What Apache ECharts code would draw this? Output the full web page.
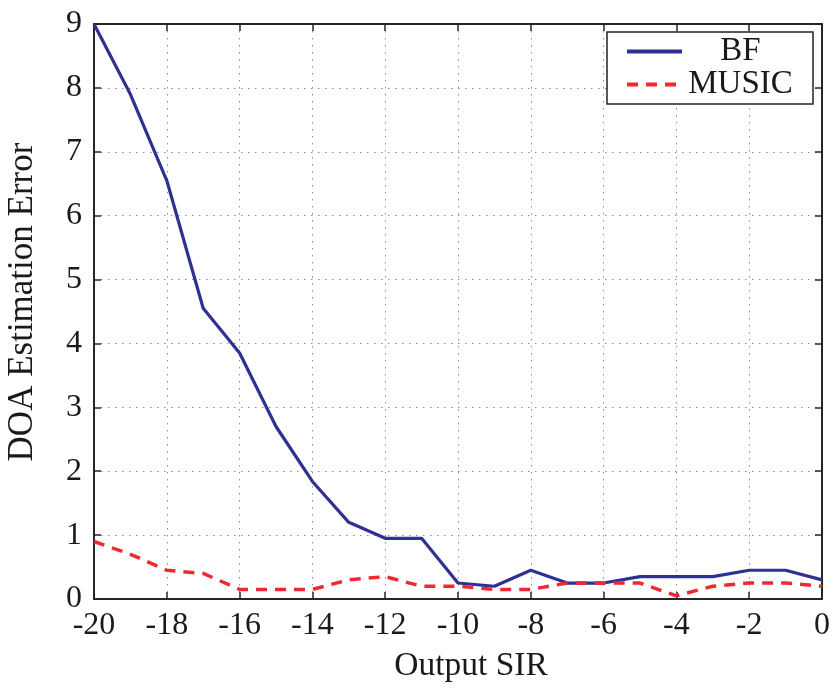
<!DOCTYPE html>
<html>
<head>
<meta charset="utf-8">
<script src="https://cdn.jsdelivr.net/npm/echarts@6/dist/echarts.min.js"></script>
<style>
  html, body { margin: 0; padding: 0; background: #fff; }
  #chart { width: 833px; height: 689px; }
</style>
</head>
<body>
<div id="chart"></div>
<script>
const sir = [-20, -19, -18, -17, -16, -15, -14, -13, -12, -11, -10, -9, -8, -7, -6, -5, -4, -3, -2, -1, 0]
const bfErr = [9, 7.9, 6.55, 4.55, 3.85, 2.7, 1.84, 1.2, 0.95, 0.95, 0.25, 0.2, 0.45, 0.25, 0.25, 0.35, 0.35, 0.35, 0.45, 0.45, 0.3]
const musicErr = [0.9, 0.7, 0.45, 0.4, 0.15, 0.15, 0.15, 0.3, 0.35, 0.2, 0.2, 0.15, 0.15, 0.25, 0.25, 0.25, 0.05, 0.2, 0.25, 0.25, 0.2]
const xTitle = 'Output SIR'
const yTitle = 'DOA Estimation Error'

const font = 'Liberation Serif'
const axisColor = '#262626'
const gridDots = { color: '#8c8c8c', width: 1, type: [1.5, 5.5] }

const chart = echarts.init(document.getElementById('chart'))

const frameAxis = (pos) => ({
  type: 'value', position: pos, min: pos === 'top' ? -20 : 0, max: pos === 'top' ? 0 : 9,
  interval: pos === 'top' ? 2 : 1,
  axisLine: { show: true, onZero: false, lineStyle: { color: axisColor, width: 2 } },
  axisTick: { show: true, inside: true, length: 7, lineStyle: { color: axisColor, width: 1.5 } },
  axisLabel: { show: false }, splitLine: { show: false }
})

chart.setOption({
  animation: false,
  backgroundColor: '#fff',
  grid: { left: 94, right: 9, top: 24, bottom: 90 },
  xAxis: [{
    type: 'value', min: -20, max: 0, interval: 2,
    axisLine: { onZero: false, lineStyle: { color: axisColor, width: 2 } },
    axisTick: { inside: true, length: 7, lineStyle: { color: axisColor, width: 1.5 } },
    axisLabel: { color: '#1a1a1a', fontFamily: font, fontSize: 32, margin: 11 },
    splitLine: { show: true, lineStyle: gridDots }
  }, frameAxis('top')],
  yAxis: [{
    type: 'value', min: 0, max: 9, interval: 1,
    axisLine: { show: true, onZero: false, lineStyle: { color: axisColor, width: 2 } },
    axisTick: { show: true, inside: true, length: 7, lineStyle: { color: axisColor, width: 1.5 } },
    axisLabel: { color: '#1a1a1a', fontFamily: font, fontSize: 32, margin: 12 },
    splitLine: { show: true, lineStyle: gridDots }
  }, frameAxis('right')],
  legend: {
    orient: 'vertical', left: 607, top: 32,
    padding: [3, 19, 3, 18], itemGap: 0,
    itemWidth: 55, itemHeight: 34,
    borderColor: '#222', borderWidth: 1.5, backgroundColor: '#fff',
    itemStyle: { opacity: 0 },
    lineStyle: { width: 4 },
    formatter: n => '{c|' + n + '}',
    textStyle: {
      color: '#1a1a1a', fontFamily: font, fontSize: 33,
      rich: { c: { width: 107, align: 'center', fontFamily: font, fontSize: 33, lineHeight: 34 } }
    },
    data: ['BF', 'MUSIC']
  },
  graphic: [
    { type: 'text', x: 23, y: 302, rotation: Math.PI / 2,
      style: { text: yTitle, font: '35px "Liberation Serif"', fill: '#1a1a1a', align: 'center', verticalAlign: 'middle' } },
    { type: 'text', x: 471, y: 666,
      style: { text: xTitle, font: '33.5px "Liberation Serif"', fill: '#1a1a1a', align: 'center', verticalAlign: 'middle' } }
  ],
  series: [
    { name: 'BF', type: 'line', data: sir.map((x, i) => [x, bfErr[i]]), symbol: 'none',
      lineStyle: { color: '#2e3192', width: 3.2 }, itemStyle: { color: '#2e3192' }, z: 3 },
    { name: 'MUSIC', type: 'line', data: sir.map((x, i) => [x, musicErr[i]]), symbol: 'none',
      lineStyle: { color: '#ee2a30', width: 3.5, type: [11, 8] }, itemStyle: { color: '#ee2a30' }, z: 4 }
  ]
})
</script>
</body>
</html>
